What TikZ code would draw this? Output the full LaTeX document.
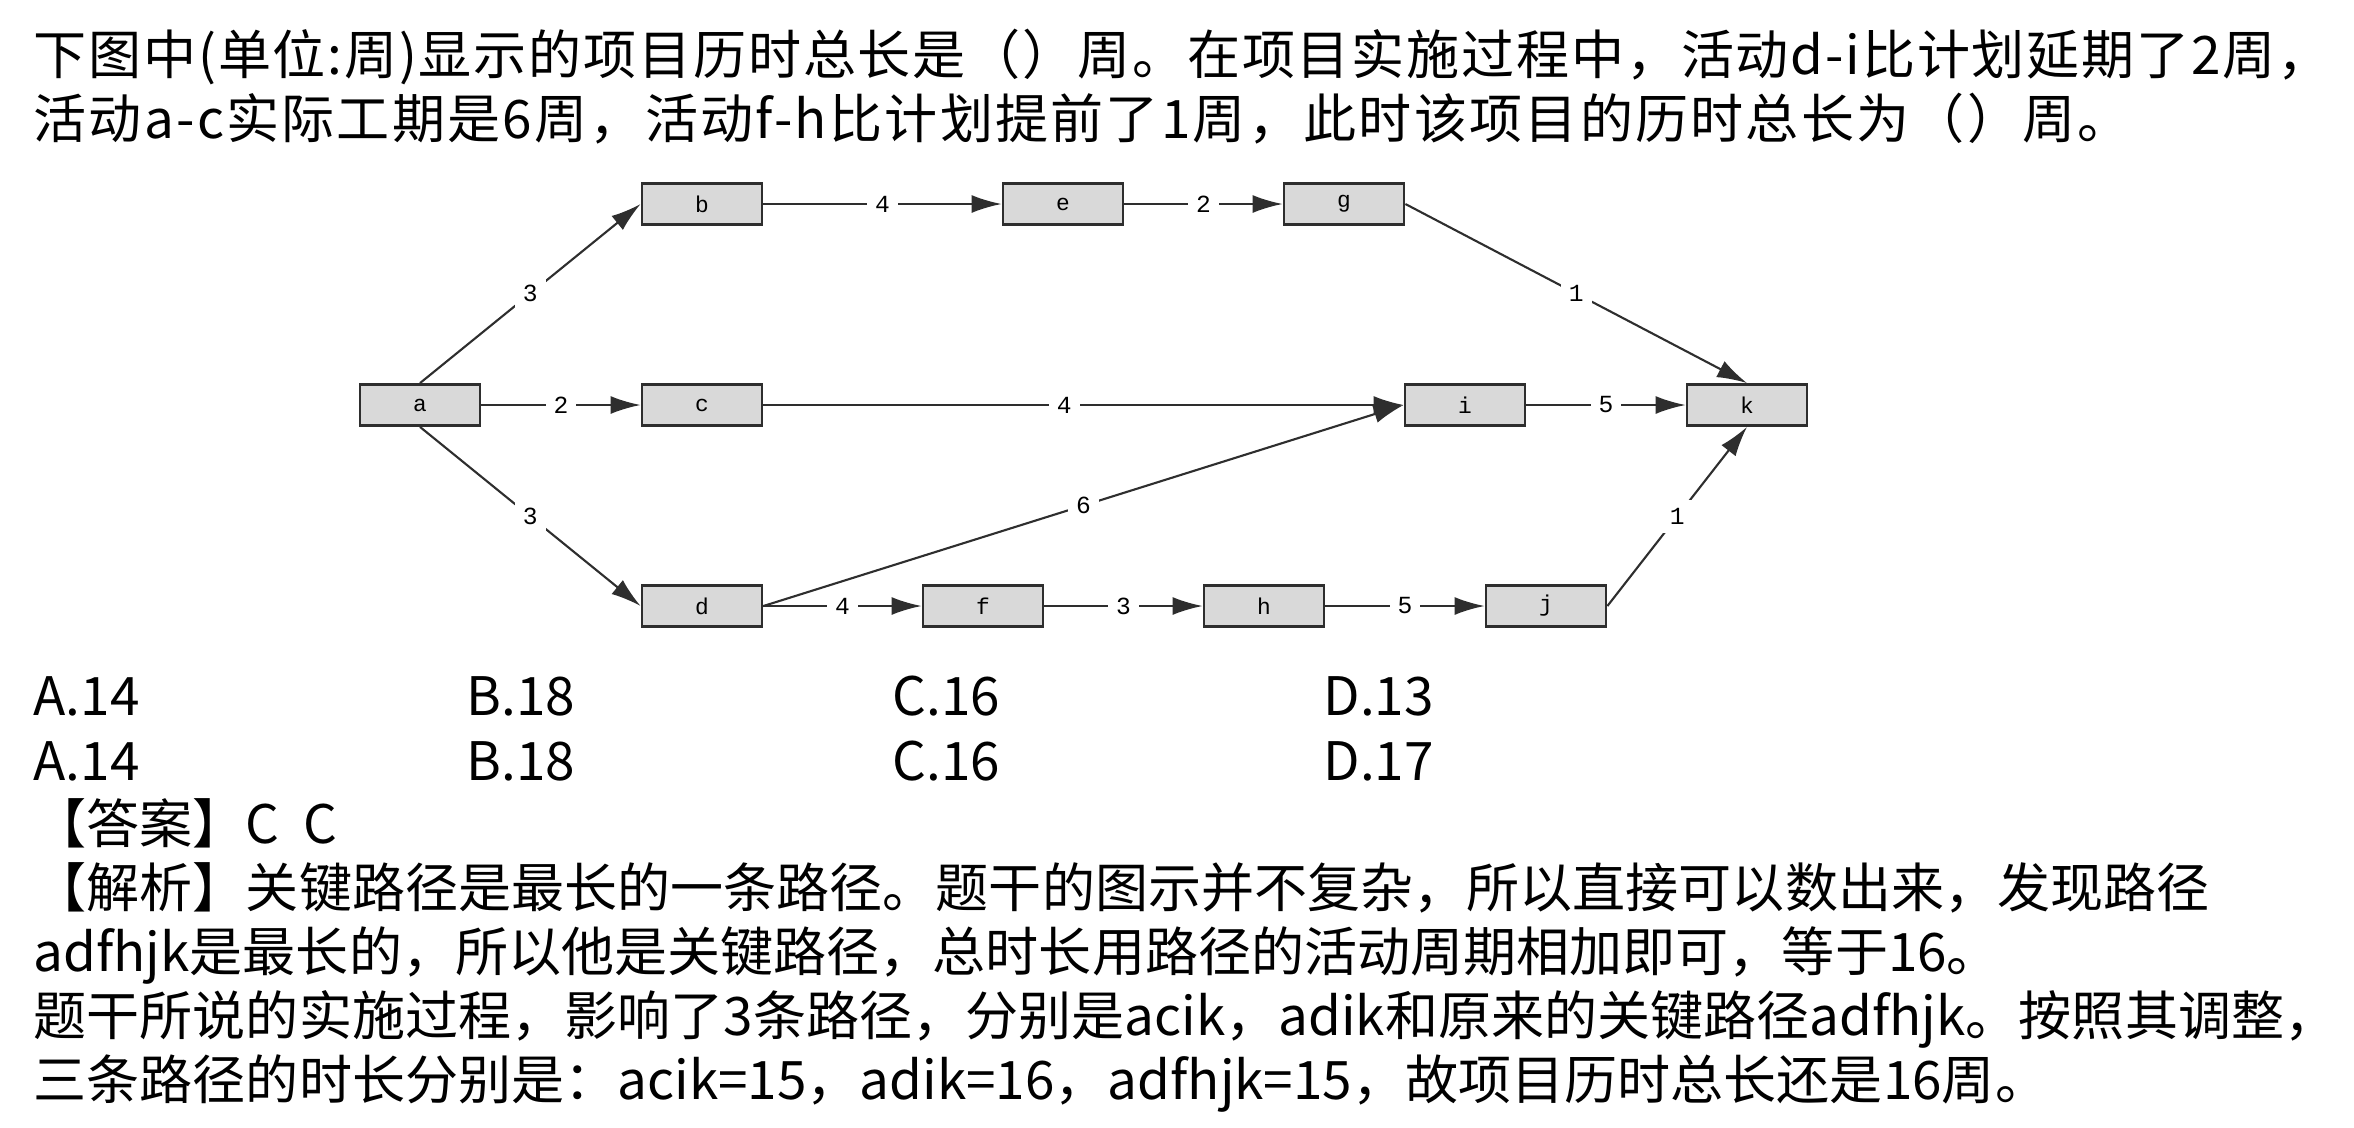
\documentclass[tikz,border=0pt]{standalone}
\usepackage{fontspec}
\setmainfont{Noto Sans CJK SC}
\newfontfamily\netfont{Liberation Mono}
\usepackage{tikz}
\usetikzlibrary{arrows.meta}

\definecolor{boxgray}{HTML}{D9D9D9}
\definecolor{linegray}{HTML}{2E2E2E}
\tikzset{
	task/.style={draw=linegray, fill=boxgray, line width=0.8pt,
		minimum width=1.2cm, minimum height=0.41cm, inner sep=0pt,
		font=\netfont\fontsize{6.5}{6.5}\selectfont},
	link/.style={draw=linegray, line width=0.6pt,
		-{Latex[length=0.3cm,width=0.18cm]}},
	dur/.style={fill=white, inner sep=0.08cm,
		font=\netfont\fontsize{7}{7}\selectfont},
	txt/.style={anchor=base west, inner sep=0pt,
		font=\fontsize{15.1}{18}\selectfont},
	wide/.style={font=\fontsize{15.1}{18}\selectfont\addfontfeature{LetterSpace=#1}}
}

\begin{document}
\begin{tikzpicture}
\useasboundingbox (0,0) rectangle (23.54,-11.28);
% Question
\node[txt, wide=3.4] (q1) at (0.33,-0.74) {下图中(单位:周)显示的项目历时总长是（）周。在项目实施过程中，活动d-i比计划延期了2周，};
\node[txt, wide=4.2] (q2) at (0.33,-1.38) {活动a-c实际工期是6周，活动f-h比计划提前了1周，此时该项目的历时总长为（）周。};
% Network
\node[task] (a) at (4.20,-4.05) {a};
\node[task] (b) at (7.02,-2.04) {b};
\node[task] (e) at (10.63,-2.04) {e};
\node[task] (g) at (13.44,-2.04) {g};
\node[task] (c) at (7.02,-4.05) {c};
\node[task] (i) at (14.65,-4.05) {i};
\node[task] (k) at (17.47,-4.05) {k};
\node[task] (d) at (7.02,-6.06) {d};
\node[task] (f) at (9.83,-6.06) {f};
\node[task] (h) at (12.64,-6.06) {h};
\node[task] (j) at (15.46,-6.06) {j};
% Activities
\draw[link] (a.north) -- node[dur] {3} (b.west);
\draw[link] (a.east) -- node[dur] {2} (c.west);
\draw[link] (a.south) -- node[dur] {3} (d.west);
\draw[link] (b.east) -- node[dur] {4} (e.west);
\draw[link] (e.east) -- node[dur] {2} (g.west);
\draw[link] (g.east) -- node[dur] {1} (k.north);
\draw[link] (c.east) -- node[dur, pos=0.47] {4} (i.west);
\draw[link] (d.east) -- node[dur] {6} (i.west);
\draw[link] (i.east) -- node[dur] {5} (k.west);
\draw[link] (d.east) -- node[dur] {4} (f.west);
\draw[link] (f.east) -- node[dur] {3} (h.west);
\draw[link] (h.east) -- node[dur] {5} (j.west);
\draw[link] (j.east) -- node[dur] {1} (k.south);
% Options
\node[txt] (oa1) at (0.33,-7.15) {A.14};
\node[txt] (ob1) at (4.66,-7.15) {B.18};
\node[txt] (oc1) at (8.92,-7.15) {C.16};
\node[txt] (od1) at (13.23,-7.15) {D.13};
\node[txt] (oa2) at (0.33,-7.80) {A.14};
\node[txt] (ob2) at (4.66,-7.80) {B.18};
\node[txt] (oc2) at (8.92,-7.80) {C.16};
\node[txt] (od2) at (13.23,-7.80) {D.17};
% Answer
\node[txt] (ans) at (0.33,-8.43) {【答案】C\ \ C};
\node[txt] (ex1) at (0.33,-9.07) {【解析】关键路径是最长的一条路径。题干的图示并不复杂，所以直接可以数出来，发现路径};
\node[txt] (ex2) at (0.33,-9.71) {adfhjk是最长的，所以他是关键路径，总时长用路径的活动周期相加即可，等于16。};
\node[txt] (ex3) at (0.33,-10.35) {题干所说的实施过程，影响了3条路径，分别是acik，adik和原来的关键路径adfhjk。按照其调整，};
\node[txt] (ex4) at (0.33,-10.99) {三条路径的时长分别是：acik=15，adik=16，adfhjk=15，故项目历时总长还是16周。};
\end{tikzpicture}
\end{document}
